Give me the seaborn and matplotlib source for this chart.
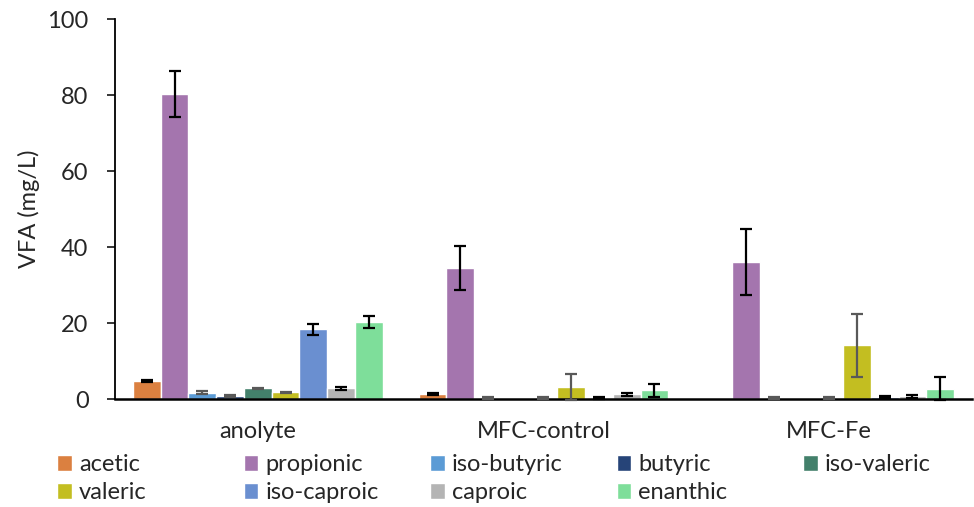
import pandas as pd
import seaborn as sns
from matplotlib import pyplot as plt

groups = ["anolyte", "MFC-control", "MFC-Fe"]
acids = ["acetic", "propionic", "iso-butyric", "butyric", "iso-valeric",
         "valeric", "iso-caproic", "caproic", "enanthic"]
colors = ["#DB8040", "#A475AE", "#5B9BD5", "#264478", "#43806B",
          "#C3BE21", "#6A8FD0", "#B4B4B4", "#7EDE9A"]

# mean values (mg/L), one list per group, in acid order
anolyte = [4.7, 80.3, 1.7, 0.8, 2.8, 1.8, 18.3, 2.8, 20.3]
mfc_control = [1.3, 34.5, 0.3, 0.0, 0.3, 3.2, 0.3, 1.2, 2.3]
mfc_fe = [0.0, 36.0, 0.3, 0.0, 0.3, 14.2, 0.5, 0.7, 2.7]

# standard deviations
anolyte_sd = [0.3, 6.0, 0.3, 0.3, 0.2, 0.15, 1.5, 0.3, 1.6]
mfc_control_sd = [0.3, 5.8, 0.3, 0.0, 0.3, 3.5, 0.3, 0.5, 1.7]
mfc_fe_sd = [0.0, 8.7, 0.3, 0.0, 0.3, 8.3, 0.3, 0.4, 3.0]

# error bar colour per acid (excel mixed black / dark grey)
err_colors = ["black", "black", "#595959", "#595959", "#595959",
              "#595959", "black", "black", "black"]

rows = []
for g, vals, sds in zip(groups, [anolyte, mfc_control, mfc_fe],
                        [anolyte_sd, mfc_control_sd, mfc_fe_sd]):
    for a, v, s in zip(acids, vals, sds):
        rows.append({"group": g, "acid": a, "value": v, "sd": s})
df = pd.DataFrame(rows)

sns.set_style("white")
plt.rcParams['font.family'] = ['Lato', 'DejaVu Sans']

fig, ax = plt.subplots(figsize=(9.74, 5.07), dpi=100)
fig.subplots_adjust(left=0.118, right=0.998, bottom=0.213, top=0.9625)

sns.barplot(data=df, x="group", y="value", hue="acid", order=groups,
            hue_order=acids, palette=colors, errorbar=None, width=0.874,
            saturation=1, ax=ax, legend=True)

# error bars on top of each bar
for cont, acid, ec in zip(ax.containers, acids, err_colors):
    sub = df[df["acid"] == acid].set_index("group").loc[groups]
    xs = [p.get_x() + p.get_width() / 2 for p in cont.patches]
    mask = sub["sd"].values > 0
    ax.errorbar([x for x, m in zip(xs, mask) if m],
                sub["value"].values[mask], yerr=sub["sd"].values[mask],
                fmt="none", ecolor=ec, elinewidth=1.6, capsize=4,
                capthick=1.6, clip_on=False, zorder=5)

ax.set_ylim(0, 100)
ax.set_xlim(-0.5, 2.5)
ax.set_yticks([0, 20, 40, 60, 80, 100])
ax.set_xlabel("")
ax.set_ylabel("VFA (mg/L)", fontsize=17, labelpad=5)
ax.tick_params(axis="y", labelsize=17, length=6, width=1.3, direction="out",
               left=True, pad=13)
ax.tick_params(axis="x", labelsize=17, length=0, pad=16)
for s in ["top", "right"]:
    ax.spines[s].set_visible(False)
ax.spines["left"].set_linewidth(1.3)
ax.spines["bottom"].set_linewidth(1.8)
ax.spines["left"].set_color("black")
ax.spines["bottom"].set_color("black")

# legend laid out row by row, 5 per row, one small legend per column
h, l = ax.get_legend_handles_labels()
ax.get_legend().remove()
for c in range(5):
    idx = [i for i in (c, c + 5) if i < len(h)]
    fig.legend([h[i] for i in idx], [l[i] for i in idx], loc="upper left",
               bbox_to_anchor=((57 + 186.5 * c) / 974, 0.104),
               frameon=False, fontsize=17, handlelength=0.63,
               handleheight=0.63, handletextpad=0.3, borderaxespad=0,
               borderpad=0, labelspacing=0.3)

fig.savefig("out.png", dpi=100)
